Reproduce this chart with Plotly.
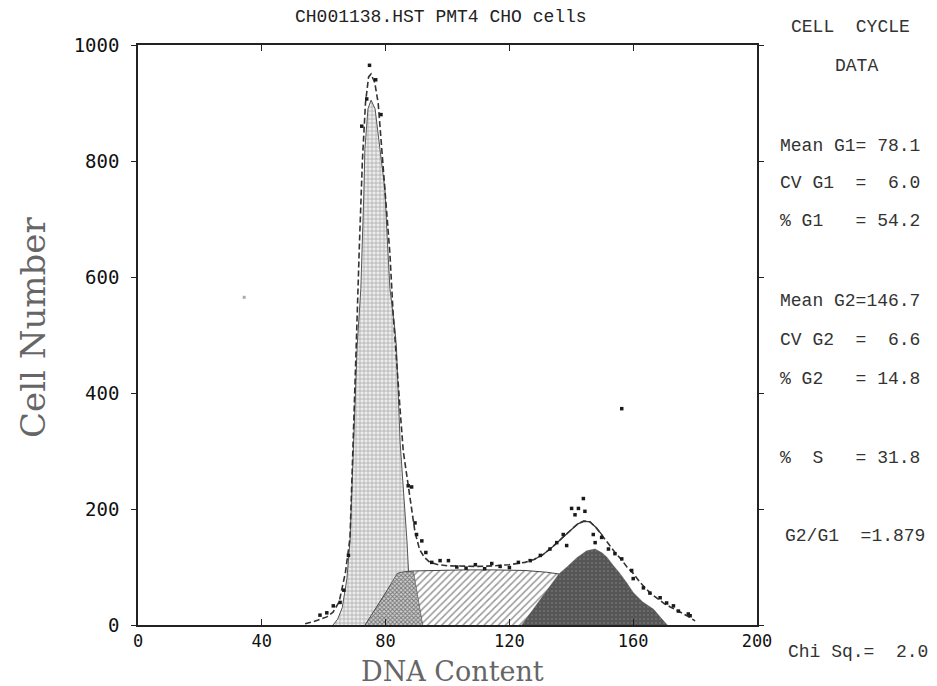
import plotly.graph_objects as go

# ---------------- data ----------------
# G1 peak component (grid-filled)
G1_CH = [63, 64.5, 66, 67.5, 68.5, 69.7, 70.8, 72.0, 72.6, 73.0, 73.3, 74.3, 75.3,
         76.6, 78.2, 79.8, 80.5, 81.4, 83.0, 83.5, 84.7, 86.9, 88.0, 89.0]
G1_CNT = [0, 10, 30, 80, 145, 314, 480, 580, 670, 750, 820, 890, 905,
          890, 820, 750, 670, 580, 510, 480, 314, 145, 32, 0]

# S-phase component (diagonal hatch)
S_CH = [73.4, 76, 80, 84, 88, 95, 105, 115, 125, 132, 136, 142, 148, 154]
S_CNT = [0, 22, 55, 89, 93, 94, 95, 95, 94, 91, 88, 60, 30, 0]

# G1 / S overlap region (checkered)
OV_CH = [73.4, 76, 80, 83.7, 86, 89, 90.5, 92]
OV_CNT = [0, 22, 55, 89, 92, 92, 45, 0]

# G2 peak component (dark fill)
G2_CH = [124, 128, 132, 136, 138.6, 141.8, 145, 147.7, 150, 151.5, 153.5, 155.7,
         158, 160, 163, 166.6, 169, 171]
G2_CNT = [0, 29, 59, 88, 100, 116, 128, 131, 124, 117, 103, 89,
          72, 56, 40, 27, 12, 0]

# total fitted model
FIT_CH = [54, 58, 61, 63, 65, 67, 68.5, 69.5, 70.5, 71.5, 72.5, 73.5, 74.5, 75.3,
          76.5, 77.6, 78.8, 80.5, 81.4, 82.4, 83.5, 84.7, 85.7, 87, 88, 89.5, 91,
          92.5, 94.3, 97, 100, 105, 110, 115, 120, 125, 128, 131, 134, 137, 140,
          142, 144, 146, 148, 150, 152, 154, 156, 158, 160, 162, 164, 166, 168,
          170, 172, 174, 176, 178, 180]
FIT_CNT = [2, 8, 14, 22, 40, 90, 150, 300, 480, 650, 800, 900, 945, 950,
           935, 900, 820, 710, 640, 540, 450, 370, 300, 250, 215, 160, 130,
           117, 108, 104, 102, 101, 101, 102, 104, 108, 113, 122, 135, 150, 165,
           174, 179, 178, 168, 155, 140, 126, 114, 100, 89, 75, 63, 53, 45,
           37, 31, 26, 20, 14, 7]

# raw histogram points
DOT_CH = [58.8, 61, 63.1, 65.3, 66.5, 68, 72.3, 73.9, 74.8, 76.8, 78.5, 87.3, 88.4,
          89.5, 90, 91.7, 93, 94.9, 97.6, 100.3, 103, 106, 109, 112, 114.3, 117,
          120, 122.9, 126.7, 130, 133.1, 135.3, 137.4, 138.5, 140.1, 141.2, 142.3,
          143.9, 144.4, 147.1, 147.7, 149.8, 152, 154.1, 156.3, 159.5, 160, 163.3,
          165.4, 168.7, 170.8, 173, 174.6, 177.8, 178.4, 156.3]
DOT_CNT = [17, 21, 33, 39, 60, 120, 860, 907, 965, 940, 880, 240, 238,
           176, 156, 145, 125, 108, 111, 111, 100, 98, 104, 97, 106, 101,
           99, 108, 111, 120, 131, 142, 156, 137, 201, 190, 201,
           218, 196, 156, 142, 151, 131, 123, 114, 94, 80, 64,
           55, 47, 38, 33, 24, 19, 16, 373]

STRAY_CH = [34.3]
STRAY_CNT = [565]

X_TICKS = [0, 40, 80, 120, 160, 200]
Y_TICKS = [0, 200, 400, 600, 800, 1000]

TITLE = "CH001138.HST PMT4 CHO cells"
PANEL = [
    ("CELL  CYCLE", 850, 27, "center"),
    ("DATA", 856, 66, "center"),
    ("Mean G1= 78.1", 778, 146, "left"),
    ("CV G1  =  6.0", 778, 183, "left"),
    ("% G1   = 54.2", 778, 221, "left"),
    ("Mean G2=146.7", 778, 301, "left"),
    ("CV G2  =  6.6", 778, 340, "left"),
    ("% G2   = 14.8", 778, 379, "left"),
    ("%  S   = 31.8", 778, 458, "left"),
    ("G2/G1  =1.879", 783, 536, "left"),
    ("Chi Sq.=  2.0", 786, 652, "left"),
]

# ---------------- figure ----------------
W, H = 937, 686
L, R, T, B = 138, 180, 45, 61
PW, PH = W - L - R, H - T - B


def px(xp):
    return (xp - L) / PW


def py(yp):
    return (H - B - yp) / PH


fig = go.Figure()

fig.add_trace(go.Scatter(
    x=G1_CH, y=G1_CNT, mode="lines", fill="tozeroy",
    line=dict(color="#555", width=1),
    fillpattern=dict(shape="+", fgcolor="#6a6a6a", bgcolor="#ececec", size=4, solidity=0.35),
    hoverinfo="skip"))

fig.add_trace(go.Scatter(
    x=S_CH, y=S_CNT, mode="lines", fill="tozeroy",
    line=dict(color="#444", width=1),
    fillpattern=dict(shape="/", fgcolor="#333", bgcolor="white", size=5, solidity=0.3),
    hoverinfo="skip"))

fig.add_trace(go.Scatter(
    x=OV_CH, y=OV_CNT, mode="lines", fill="tozeroy",
    line=dict(color="#333", width=0.5),
    fillpattern=dict(shape="x", fgcolor="#1e1e1e", bgcolor="#d0d0d0", size=3, solidity=0.55),
    hoverinfo="skip"))

fig.add_trace(go.Scatter(
    x=G2_CH, y=G2_CNT, mode="lines", fill="tozeroy",
    line=dict(color="#555", width=0.5),
    fillcolor="#5a5a5a",
    fillpattern=dict(shape=".", fgcolor="#8a8a8a", bgcolor="#565656", size=4, solidity=0.2),
    hoverinfo="skip"))

fig.add_trace(go.Scatter(
    x=FIT_CH, y=FIT_CNT, mode="lines",
    line=dict(color="#333", width=1.6, dash="6px,3px"),
    hoverinfo="skip"))

solid_idx = [i for i, c in enumerate(FIT_CH) if 128 <= c <= 150]
fig.add_trace(go.Scatter(
    x=[FIT_CH[i] for i in solid_idx], y=[FIT_CNT[i] for i in solid_idx], mode="lines",
    line=dict(color="#333", width=1.3),
    hoverinfo="skip"))

fig.add_trace(go.Scatter(
    x=DOT_CH, y=DOT_CNT, mode="markers",
    marker=dict(color="#1a1a1a", size=3.5, symbol="square"),
    hoverinfo="skip"))

fig.add_trace(go.Scatter(
    x=STRAY_CH, y=STRAY_CNT, mode="markers",
    marker=dict(color="#aaaaaa", size=3, symbol="square"),
    hoverinfo="skip"))

axis_common = dict(showline=True, linecolor="#222", linewidth=1.5, mirror="ticks",
                   tickwidth=1.3, tickcolor="#222",
                   showgrid=False, zeroline=False)

fig.update_layout(
    width=W, height=H,
    margin=dict(l=L, r=R, t=T, b=B),
    paper_bgcolor="white", plot_bgcolor="white",
    showlegend=False,
    xaxis=dict(range=[0, 200], tickvals=X_TICKS, ticktext=[str(v) for v in X_TICKS],
               ticks="inside", ticklen=6, ticklabelstandoff=0,
               tickfont=dict(family="DejaVu Sans Mono", size=17, color="#111"),
               **axis_common),
    yaxis=dict(range=[0, 1000], tickvals=Y_TICKS, ticktext=[str(v) for v in Y_TICKS],
               ticks="outside", ticklen=5, ticklabelstandoff=8,
               tickfont=dict(family="DejaVu Sans Mono", size=19, color="#111"),
               **axis_common),
)

ann = []
ann.append(dict(text=TITLE, x=px(441), y=py(17), xref="paper", yref="paper",
                showarrow=False, xanchor="center", yanchor="middle",
                font=dict(family="Liberation Mono", size=18, color="#222")))
ann.append(dict(text="Cell Number", x=px(33), y=py(328), xref="paper", yref="paper",
                showarrow=False, textangle=-90, xanchor="center", yanchor="middle",
                font=dict(family="DejaVu Serif", size=34, color="#666")))
ann.append(dict(text="DNA Content", x=px(452), y=py(671), xref="paper", yref="paper",
                showarrow=False, xanchor="center", yanchor="middle",
                font=dict(family="DejaVu Serif", size=27, color="#666")))
for txt, xp, yp, al in PANEL:
    ann.append(dict(text=txt.replace(" ", "&nbsp;"), x=px(xp), y=py(yp), xref="paper", yref="paper",
                    showarrow=False, xanchor=al, yanchor="middle",
                    font=dict(family="Liberation Mono", size=18, color="#333")))
fig.update_layout(annotations=ann)

fig.write_html("out.html")
